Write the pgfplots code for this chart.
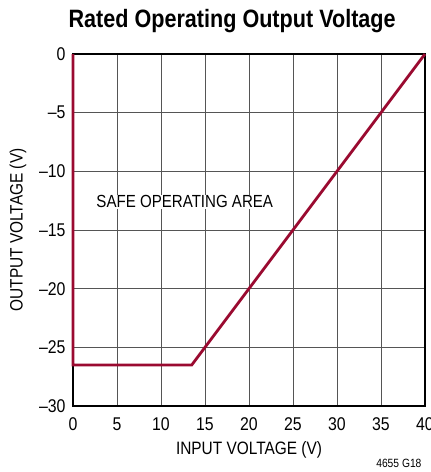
\documentclass[border=0pt]{standalone}
\usepackage{fontspec}
\setmainfont{Liberation Sans}[FakeStretch=0.86]
\usepackage{pgfplots}
\pgfplotsset{compat=1.18}
\definecolor{curve}{HTML}{9A0A30}
\definecolor{gridc}{HTML}{555555}
\begin{document}
\begin{tikzpicture}[x=1bp,y=1bp]
\begin{axis}[
  at={(0bp,0bp)}, anchor=south west,
  scale only axis, width=352bp, height=352bp,
  xmin=0, xmax=40, ymin=-30, ymax=0,
  xtick={0,5,...,40}, ytick={-30,-25,...,0},
  yticklabels={\textendash30,\textendash25,\textendash20,\textendash15,\textendash10,\textendash5,0},
  xticklabels={0,5,10,15,20,25,30,35,40},
  tick style={draw=none},
  grid=major,
  major grid style={draw=gridc, line width=0.9bp},
  axis line style={line width=1.6bp, black},
  tick label style={font=\fontsize{18.5}{18.5}\selectfont},
  xticklabel style={yshift=-8bp},
  yticklabel style={xshift=-4bp},
  label style={font=\fontsize{18}{18}\selectfont},
  xlabel={INPUT VOLTAGE (V)},
  ylabel={OUTPUT VOLTAGE (V)},
  xlabel style={at={(axis description cs:0.5,-0.125)}, anchor=center},
  ylabel style={at={(axis description cs:-0.156,0.5)}, anchor=center},
  title={\bfseries Rated Operating Output Voltage},
  title style={font=\fontsize{25.2}{25.2}\selectfont\bfseries, at={(rel axis cs:0.452,1.057)}, anchor=base},
  clip=false,
]
\addplot[curve, line width=2.8bp] coordinates {(0,0) (0,-26.5) (13.5,-26.5) (40,0)};
\node[fill=white, inner sep=1bp, font=\fontsize{17.6}{17.6}\selectfont] at (axis cs:12.7,-12.6) {SAFE OPERATING AREA};
\node[anchor=east, font=\fontsize{12}{12}\selectfont] at (rel axis cs:1.0,-0.162) {4655 G18};
\end{axis}
\pgfresetboundingbox
\useasboundingbox (-73bp,-66bp) rectangle (358bp,406bp);
\end{tikzpicture}
\end{document}
